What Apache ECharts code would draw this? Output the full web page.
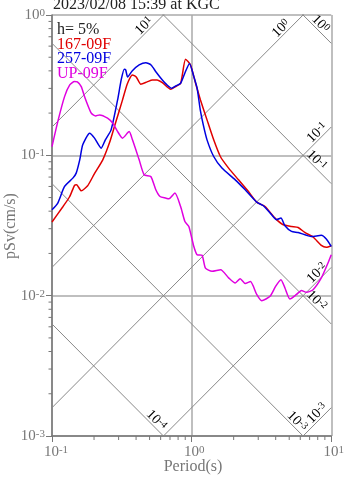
<!DOCTYPE html>
<html>
<head>
<meta charset="utf-8">
<script src="https://cdn.jsdelivr.net/npm/echarts@6/dist/echarts.min.js"></script>
<style>
html, body { margin: 0; padding: 0; background: #fff; }
#chart { width: 347px; height: 478px; }
</style>
</head>
<body>
<div id="chart"></div>
<script>
const titleText = '2023/02/08 15:39 at KGC';
const dampingText = 'h= 5%';
const seriesNames = ['167-09F', '257-09F', 'UP-09F'];
const seriesColors = ['#e00000', '#0000e0', '#e000e0'];

// period (s) and pSv (cm/s)
const periodA = [0.1, 0.12, 0.134, 0.145, 0.15, 0.162, 0.18, 0.201, 0.231, 0.258, 0.28, 0.32, 0.346, 0.377, 0.401, 0.433, 0.48, 0.524, 0.565, 0.617, 0.708, 0.759, 0.834, 0.905, 0.982, 1.066, 1.157, 1.289, 1.439, 1.606, 1.84, 2.168, 2.553, 2.925, 3.357, 3.956, 4.532, 5.193, 5.794, 6.466, 7.409, 8.489, 9.214, 10];
const svA = [0.0335, 0.0432, 0.0509, 0.0612, 0.0617, 0.0559, 0.0607, 0.0738, 0.0929, 0.1227, 0.1603, 0.2483, 0.3228, 0.3741, 0.362, 0.3212, 0.3336, 0.3446, 0.3446, 0.3298, 0.2959, 0.3073, 0.3266, 0.4839, 0.4406, 0.3281, 0.2483, 0.1789, 0.1289, 0.0981, 0.0811, 0.0669, 0.0552, 0.0464, 0.0432, 0.0357, 0.032, 0.0311, 0.0306, 0.0282, 0.0262, 0.0228, 0.0221, 0.0227];

const periodB = [0.1, 0.11, 0.123, 0.141, 0.149, 0.158, 0.166, 0.186, 0.201, 0.225, 0.241, 0.265, 0.295, 0.313, 0.329, 0.337, 0.348, 0.375, 0.421, 0.47, 0.512, 0.556, 0.617, 0.666, 0.719, 0.772, 0.834, 0.895, 0.966, 1.037, 1.094, 1.153, 1.212, 1.289, 1.439, 1.649, 2.053, 2.419, 2.925, 3.265, 3.741, 4.061, 4.364, 4.66, 5.193, 5.794, 7.205, 8.489, 9.214, 10];
const svB = [0.0409, 0.0457, 0.06, 0.0688, 0.0747, 0.0929, 0.1188, 0.1439, 0.1332, 0.1125, 0.1289, 0.1519, 0.2483, 0.3446, 0.4107, 0.4061, 0.362, 0.3994, 0.4406, 0.4576, 0.4406, 0.3929, 0.3446, 0.3175, 0.3008, 0.3124, 0.3266, 0.3865, 0.4517, 0.3638, 0.3022, 0.2108, 0.1648, 0.1289, 0.0981, 0.0811, 0.0669, 0.0568, 0.0464, 0.0437, 0.0377, 0.0348, 0.0357, 0.0315, 0.0287, 0.0282, 0.0264, 0.0269, 0.0253, 0.0224];

const periodC = [0.1, 0.11, 0.123, 0.134, 0.145, 0.152, 0.162, 0.171, 0.191, 0.205, 0.219, 0.25, 0.272, 0.293, 0.32, 0.357, 0.377, 0.421, 0.457, 0.51, 0.554, 0.594, 0.652, 0.688, 0.759, 0.834, 0.895, 0.955, 1.037, 1.094, 1.188, 1.256, 1.4, 1.614, 1.84, 2.053, 2.228, 2.419, 2.639, 2.925, 3.175, 3.645, 3.994, 4.364, 4.66, 5.057, 5.635, 6.115, 6.641, 7.409, 8.489, 9.474, 10];
const svC = [0.1155, 0.174, 0.2621, 0.3175, 0.3353, 0.3336, 0.3089, 0.2621, 0.1997, 0.191, 0.1942, 0.184, 0.1696, 0.1494, 0.1326, 0.1477, 0.1289, 0.0929, 0.0727, 0.0707, 0.0568, 0.0509, 0.0496, 0.049, 0.0538, 0.0432, 0.0338, 0.0311, 0.0224, 0.0196, 0.0194, 0.0157, 0.0149, 0.0153, 0.0134, 0.0123, 0.0132, 0.0122, 0.0126, 0.0102, 0.00921, 0.00989, 0.01165, 0.013, 0.01134, 0.00947, 0.0102, 0.0109, 0.01056, 0.01103, 0.01337, 0.0171, 0.0196];

// tripartite guide lines: Sa (cm/s2) rising, Sd (cm) falling, with the period where each label sits
const accLevels = [10, 1, 0.1, 0.01, 0.001];
const accLabelT = [0.49, 4.7, 8.5, 8.5, 8.5];
const dispLevels = [1, 0.1, 0.01, 0.001, 0.0001];
const dispLabelT = [7.8, 7.3, 7.3, 5.3, 0.52];

const xMin = 0.1, xMax = 10, yMin = 0.001, yMax = 1;
const minorSteps = [2, 3, 4, 5, 6, 7, 8, 9];

const serif = 'Liberation Serif';
const gray = '#777';
const TWO_PI = 2 * Math.PI;

function zip(ts, vs) { return ts.map((t, i) => [t, vs[i]]); }
function expOf(v) { return Math.round(Math.log10(v)); }

const supRich = {
  b: { fontSize: 15, fontFamily: serif, color: gray },
  s: { fontSize: 11, fontFamily: serif, color: gray, verticalAlign: 'top' },
  p1: { width: 8 },
  p0: { width: 5 }
};

const guideSeries = [];
accLevels.forEach(sa => {
  guideSeries.push({
    type: 'line', silent: true, symbol: 'none', z: 1,
    lineStyle: { color: '#888', width: 1 },
    data: [[xMin, sa * xMin / TWO_PI], [xMax, sa * xMax / TWO_PI]]
  });
});
dispLevels.forEach(sd => {
  guideSeries.push({
    type: 'line', silent: true, symbol: 'none', z: 1,
    lineStyle: { color: '#888', width: 1 },
    data: [[xMin, TWO_PI * sd / xMin], [xMax, TWO_PI * sd / xMax]]
  });
});

const curves = [zip(periodA, svA), zip(periodB, svB), zip(periodC, svC)].map((d, i) => ({
  name: seriesNames[i], type: 'line', showSymbol: false, z: 5,
  smooth: 0.2,
  lineStyle: { color: seriesColors[i], width: 1.5 },
  data: d
}));

const chart = echarts.init(document.getElementById('chart'));
chart.setOption({
  animation: false,
  grid: { left: 52, right: 14, top: 15, bottom: 42 },
  xAxis: {
    type: 'log', logBase: 10, min: xMin, max: xMax,
    axisLine: { lineStyle: { color: gray, width: 1.5 } },
    axisTick: { length: 6, lineStyle: { color: gray } },
    splitLine: { show: true, lineStyle: { color: '#aaa', width: 1.5 } },
    axisLabel: {
      margin: 9,
      formatter: v => {
        const e = expOf(v);
        return (e < 0 ? '{p1|}' : '{p0|}') + '{b|10}{s|' + e + '}';
      },
      rich: supRich
    }
  },
  yAxis: {
    type: 'log', logBase: 10, min: yMin, max: yMax,
    axisLine: { lineStyle: { color: gray, width: 1.5 } },
    axisTick: { length: 6, lineStyle: { color: gray } },
    splitLine: { show: true, lineStyle: { color: '#aaa', width: 1.5 } },
    axisLabel: {
      margin: 7,
      formatter: v => '{b|10}{s|' + expOf(v) + '}',
      rich: supRich
    }
  },
  series: guideSeries.concat(curves)
});

function buildGraphics() {
  const g = [];
  const px = (t, s) => chart.convertToPixel({ gridIndex: 0 }, [t, s]);
  const x0 = px(xMin, yMin);
  // minor ticks
  for (let d = xMin; d < xMax; d *= 10) {
    minorSteps.forEach(m => {
      const p = px(d * m, yMin);
      g.push({ type: 'line', shape: { x1: p[0], y1: x0[1], x2: p[0], y2: x0[1] + 4 }, style: { stroke: gray, lineWidth: 1 } });
    });
  }
  for (let d = yMin; d < yMax; d *= 10) {
    minorSteps.forEach(m => {
      const p = px(xMin, d * m);
      g.push({ type: 'line', shape: { x1: x0[0] - 3.5, y1: p[1], x2: x0[0], y2: p[1] }, style: { stroke: gray, lineWidth: 1 } });
    });
  }
  const labRich = {
    b: { fontSize: 14, fontFamily: serif, color: gray },
    s: { fontSize: 10, fontFamily: serif, color: gray, verticalAlign: 'top' }
  };
  const off = 4.3;
  accLevels.forEach((sa, i) => {
    const t = accLabelT[i];
    const p = px(t, sa * t / TWO_PI);
    g.push({
      type: 'text', x: p[0] - off, y: p[1] - off, rotation: Math.PI / 4, z: 3,
      style: { text: '{b|10}{s|' + expOf(sa) + '}', rich: labRich, align: 'center', verticalAlign: 'middle' }
    });
  });
  dispLevels.forEach((sd, i) => {
    const t = dispLabelT[i];
    const p = px(t, TWO_PI * sd / t);
    g.push({
      type: 'text', x: p[0] + off, y: p[1] - off, rotation: -Math.PI / 4, z: 3,
      style: { text: '{b|10}{s|' + expOf(sd) + '}', rich: labRich, align: 'center', verticalAlign: 'middle' }
    });
  });
  // title, legend and axis names
  g.push({ type: 'text', x: 53, y: 5, style: { text: titleText, font: '16px "Liberation Serif"', fill: '#222', verticalAlign: 'middle' } });
  const legendTexts = [dampingText].concat(seriesNames);
  const legendColors = ['#222'].concat(seriesColors);
  legendTexts.forEach((t, i) => {
    g.push({ type: 'text', x: 57, y: 30 + i * 14.5, z: 6, style: { text: t, font: '16px "Liberation Serif"', fill: legendColors[i], verticalAlign: 'middle' } });
  });
  g.push({ type: 'text', x: 193, y: 467, style: { text: 'Period(s)', font: '16px "Liberation Serif"', fill: gray, align: 'center', verticalAlign: 'middle' } });
  g.push({ type: 'text', x: 11, y: 226, rotation: Math.PI / 2, style: { text: 'pSv(cm/s)', font: '16px "Liberation Serif"', fill: gray, align: 'center', verticalAlign: 'middle' } });
  return g;
}

chart.setOption({ graphic: buildGraphics() });
</script>
</body>
</html>
